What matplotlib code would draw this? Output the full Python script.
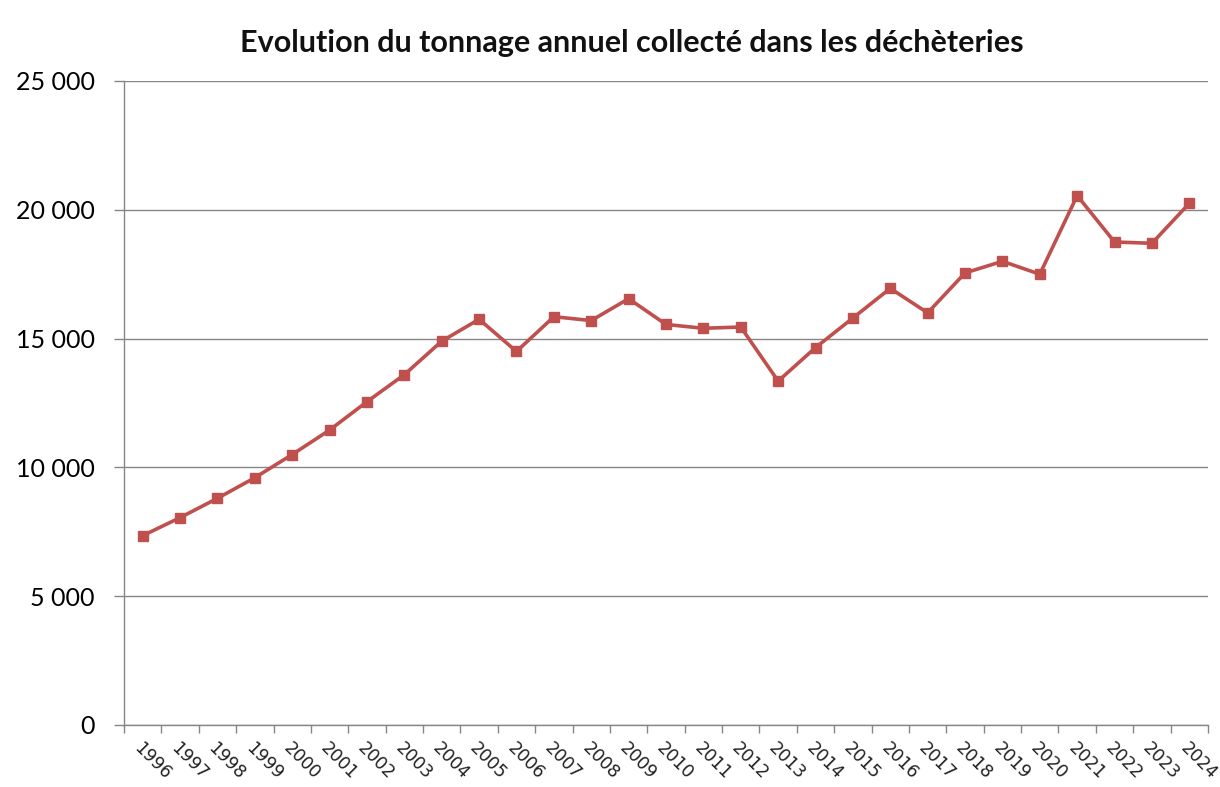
import numpy as np
import matplotlib.pyplot as plt
from matplotlib.ticker import FuncFormatter, FixedLocator

# ------------------------------------------------------------
# Données : tonnage annuel collecté dans les déchèteries
# ------------------------------------------------------------
annees = list(range(1996, 2025))
tonnage = [7350, 8050, 8800, 9600, 10500, 11450, 12550, 13600, 14900, 15750,
           14500, 15850, 15700, 16550, 15550, 15400, 15450, 13350, 14650, 15800,
           16950, 16000, 17550, 18000, 17500, 20550, 18750, 18700, 20250]
y_ticks = [0, 5000, 10000, 15000, 20000, 25000]
titre = "Evolution du tonnage annuel collecté dans les déchèteries"

ROUGE = "#C0504D"
GRIS = "#868686"

fig = plt.figure(figsize=(12.2, 7.87), dpi=100)
ax = fig.add_axes([124 / 1220, 62 / 787, 1084 / 1220, 644 / 787])

x = np.arange(len(annees))
ax.plot(x, tonnage, color=ROUGE, linewidth=2.6, marker="s", markersize=7,
        markerfacecolor=ROUGE, markeredgecolor=ROUGE, zorder=3)

ax.set_xlim(-0.5, len(annees) - 0.5)
ax.set_ylim(0, 25000)

# axe y : grille horizontale
ax.set_yticks(y_ticks)
ax.yaxis.set_major_formatter(FuncFormatter(lambda v, p: f"{int(v):,}".replace(",", " ")))
ax.grid(axis="y", color=GRIS, linewidth=1.0)
ax.set_axisbelow(True)
ax.tick_params(axis="y", length=7, width=1, color=GRIS, pad=14, labelsize=18)
for lab in ax.get_yticklabels():
    lab.set_fontfamily("Lato")

# axe x : graduations entre catégories, étiquettes au centre
ax.set_xticks(x)
ax.set_xticklabels([str(a) for a in annees], rotation=-45, ha="left", va="top",
                   rotation_mode="anchor", fontsize=12.5, family="DejaVu Sans",
                   color="#222222")
ax.tick_params(axis="x", which="major", length=0, pad=10)
ax.xaxis.set_minor_locator(FixedLocator(np.arange(-0.5, len(annees), 1.0)))
ax.tick_params(axis="x", which="minor", length=6, width=1, color=GRIS)

for s in ["top", "right"]:
    ax.spines[s].set_visible(False)
for s in ["left", "bottom"]:
    ax.spines[s].set_color(GRIS)
    ax.spines[s].set_linewidth(1.0)

fig.text(0.518, 0.945, titre, ha="center", va="center", fontsize=22,
         fontweight="bold", family="Lato", color="#111111")

plt.savefig("out.png", dpi=100)
